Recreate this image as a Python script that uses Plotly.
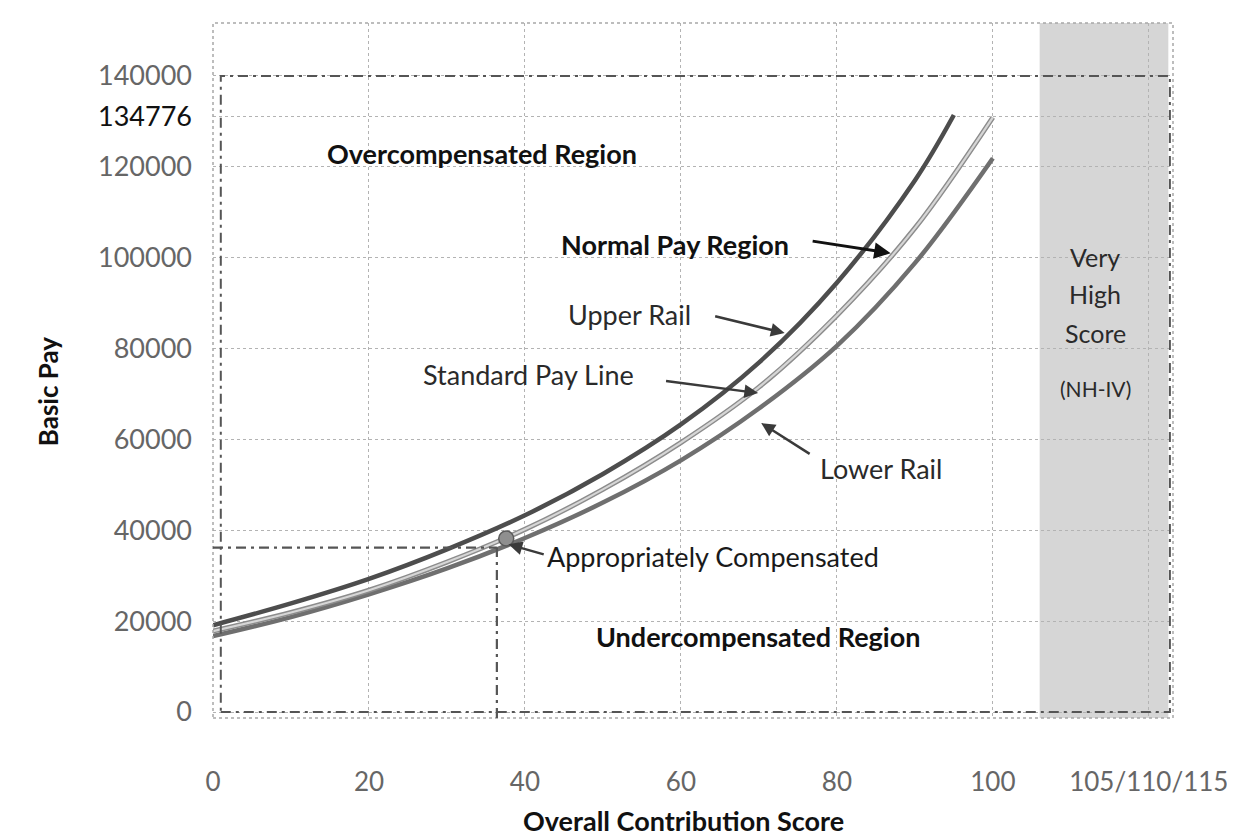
import plotly.graph_objects as go

# ---------------- data ----------------
score_std = [0, 10, 20, 30, 40, 50, 60, 70, 80, 90, 100]
pay_std = [17800, 21900, 26800, 33000, 40200, 49000, 59300, 71500, 87300, 106500, 130900]

score_upper = [0, 10, 20, 30, 40, 50, 60, 70, 80, 90, 95]
pay_upper = [19100, 23900, 29300, 35800, 43300, 52400, 63300, 76900, 94500, 117000, 131400]

score_lower = [0, 10, 20, 30, 40, 50, 60, 70, 80, 90, 100]
pay_lower = [16700, 20900, 25900, 31600, 38300, 46100, 55400, 66800, 80600, 98800, 121900]

# appropriately compensated example point and its guide lines
app_score = [37.6]
app_pay = [38200]
guide_score = 36.4
guide_pay = 36200

# very high score band
band_start = 106
band_end = 122.5

# outer dash-dot frame
frame_x = [1, 122.7]
frame_y = [0, 140000]

x_tickvals = [0, 20, 40, 60, 80, 100, 120]
x_ticktext = ["0", "20", "40", "60", "80", "100", "105/110/115"]
y_tickvals = [0, 20000, 40000, 60000, 80000, 100000, 120000, 131000, 140000]
y_ticktext = ["0", "20000", "40000", "60000", "80000", "100000", "120000",
              '<span style="color:#111">134776</span>', "140000"]

FONT = "Lato"
DASHDOT = "10px,5px,3px,5px"

fig = go.Figure()

# curves
fig.add_trace(go.Scatter(x=score_lower, y=pay_lower, mode="lines", line=dict(color="#6f6f6f", width=4.5, shape="spline"),
                         name="Lower Rail", showlegend=False, hoverinfo="skip"))
fig.add_trace(go.Scatter(x=score_std, y=pay_std, mode="lines", line=dict(color="#8c8c8c", width=5, shape="spline"),
                         name="Standard Pay Line", showlegend=False, hoverinfo="skip"))
fig.add_trace(go.Scatter(x=score_std, y=pay_std, mode="lines", line=dict(color="#d6d6d6", width=2.2, shape="spline"),
                         name="Standard Pay Line", showlegend=False, hoverinfo="skip"))
fig.add_trace(go.Scatter(x=score_upper, y=pay_upper, mode="lines", line=dict(color="#4d4d4d", width=4.5, shape="spline"),
                         name="Upper Rail", showlegend=False, hoverinfo="skip"))
fig.add_trace(go.Scatter(x=app_score, y=app_pay, mode="markers",
                         marker=dict(size=15, color="#8f8f8f", line=dict(color="#5a5a5a", width=1.5)),
                         showlegend=False, hoverinfo="skip"))

shapes = []
# shaded band
shapes.append(dict(type="rect", xref="x", yref="paper", x0=band_start, x1=band_end, y0=0, y1=1,
                   fillcolor="#d6d6d6", line=dict(width=0), layer="below"))
# plot border (dotted)
shapes.append(dict(type="rect", xref="paper", yref="paper", x0=0, x1=1, y0=0, y1=1,
                   line=dict(color="#a8a8a8", width=1.5, dash="dot"), layer="above"))
# dash-dot frame
shapes.append(dict(type="rect", xref="x", yref="y", x0=frame_x[0], x1=frame_x[1], y0=frame_y[0], y1=frame_y[1],
                   line=dict(color="#555555", width=2, dash=DASHDOT), layer="above"))
# guide lines
shapes.append(dict(type="line", xref="x", yref="y", x0=0, x1=guide_score, y0=guide_pay, y1=guide_pay,
                   line=dict(color="#555555", width=2.2, dash=DASHDOT)))
shapes.append(dict(type="line", xref="x", yref="y", x0=guide_score, x1=guide_score, y0=-1300, y1=guide_pay,
                   line=dict(color="#555555", width=2.2, dash=DASHDOT)))

annotations = []


def txt(x, y, text, size=27, bold=False, anchor="center", color="#1a1a1a"):
    annotations.append(dict(x=x, y=y, xref="x", yref="y", text=("<b>%s</b>" % text) if bold else text,
                            showarrow=False, xanchor=anchor, yanchor="middle",
                            font=dict(family=FONT, size=size, color=color)))


def arrow(x0, y0, x1, y1, color="#3a3a3a", width=2.5):
    annotations.append(dict(x=x1, y=y1, ax=x0, ay=y0, xref="x", yref="y", axref="x", ayref="y",
                            text="", showarrow=True, arrowhead=2, arrowsize=1.1, arrowwidth=width,
                            arrowcolor=color, standoff=0, startstandoff=0))


txt(14.4, 123000, "Overcompensated Region", bold=True, anchor="left", color="#111")
txt(74.1, 102800, "Normal Pay Region", bold=True, anchor="right", color="#111")
txt(61.5, 87400, "Upper Rail", anchor="right", color="#2a2a2a")
txt(54.2, 74200, "Standard Pay Line", anchor="right", color="#2a2a2a")
txt(77.6, 53700, "Lower Rail", anchor="left", color="#2a2a2a")
txt(42.6, 34300, "Appropriately Compensated", anchor="left", color="#1a1a1a")
txt(69.9, 16700, "Undercompensated Region", bold=True, color="#111")
txt(113.1, 100100, "Very", size=25, color="#2a2a2a")
txt(113.1, 92000, "High", size=25, color="#2a2a2a")
txt(113.1, 83400, "Score", size=25, color="#2a2a2a")
txt(113.1, 71300, "(NH-IV)", size=21, color="#2a2a2a")

arrow(76.7, 103700, 86.9, 101000, color="#111", width=3)
arrow(64.2, 87200, 73.3, 83400)
arrow(57.9, 72900, 69.9, 70200)
arrow(76.7, 56600, 70.3, 63600)
arrow(42.6, 34600, 37.9, 36900)

# axis titles
annotations.append(dict(x=-0.172, y=0.47, xref="paper", yref="paper", text="<b>Basic Pay</b>", textangle=-90,
                        showarrow=False, xanchor="center", yanchor="middle",
                        font=dict(family=FONT, size=26, color="#111")))
annotations.append(dict(x=0.49, y=-0.148, xref="paper", yref="paper", text="<b>Overall Contribution Score</b>",
                        showarrow=False, xanchor="center", yanchor="middle",
                        font=dict(family=FONT, size=27, color="#111")))

fig.update_layout(
    width=1235, height=840,
    margin=dict(l=205, r=70, t=15, b=130),
    paper_bgcolor="white", plot_bgcolor="white",
    shapes=shapes, annotations=annotations,
    font=dict(family=FONT),
)
fig.update_xaxes(range=[0, 123.1], tickvals=x_tickvals, ticktext=x_ticktext,
                 showgrid=True, gridcolor="#b3b3b3", griddash="dot", gridwidth=1,
                 zeroline=False, showline=False, ticks="", ticklabelstandoff=46,
                 tickfont=dict(family=FONT, size=26, color="#666666"))
fig.update_yaxes(range=[-1320, 151660], tickvals=y_tickvals, ticktext=y_ticktext,
                 showgrid=True, gridcolor="#b3b3b3", griddash="dot", gridwidth=1,
                 zeroline=False, showline=False, ticks="", ticklabelstandoff=20,
                 tickfont=dict(family=FONT, size=27, color="#666666"))

fig.write_html("out.html")
